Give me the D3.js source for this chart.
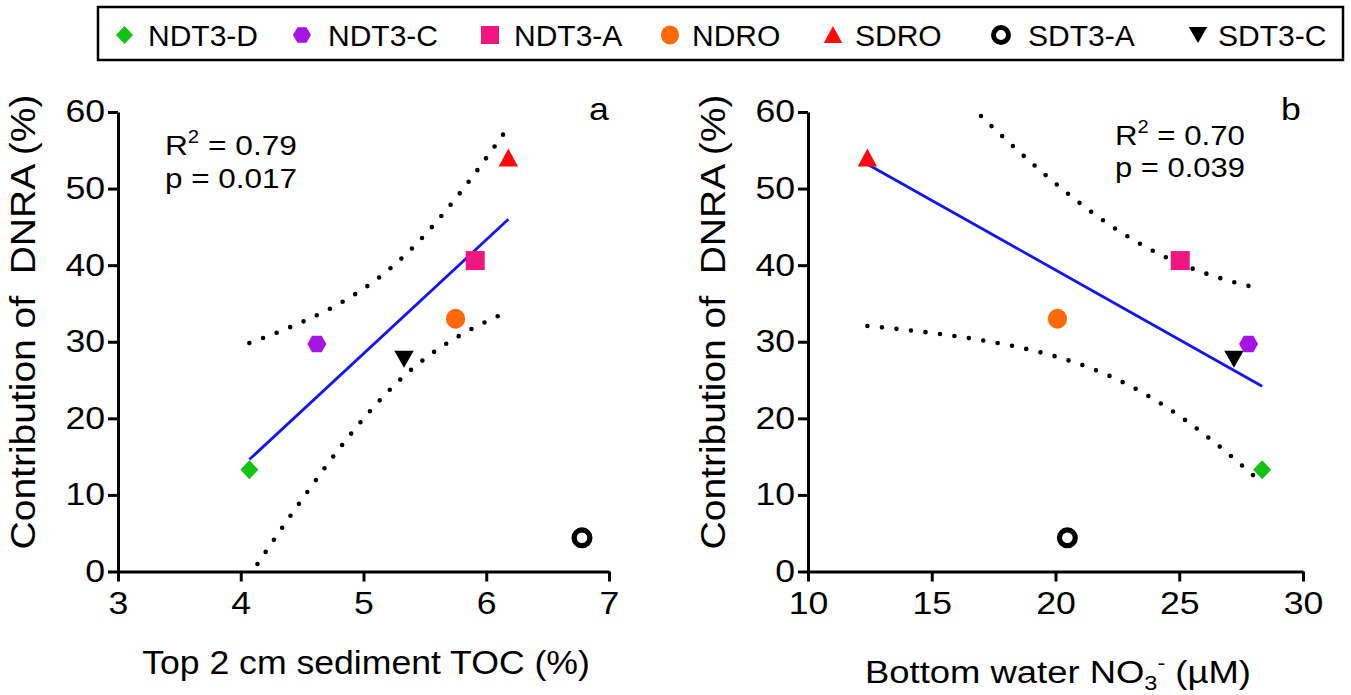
<!DOCTYPE html>
<html><head><meta charset="utf-8">
<script src="https://cdn.jsdelivr.net/npm/d3@7"></script>
<style>
body{margin:0;background:#fff;}
svg text{font-family:"Liberation Sans",Arial,Helvetica,sans-serif;fill:#000;}
</style></head><body>
<svg id="c" width="1351" height="695"></svg>
<script>
// ---------------- data ----------------
const sites   = ["NDT3-D","NDT3-C","NDT3-A","NDRO","SDRO","SDT3-A","SDT3-C"];
const shapes  = ["diamond","hexagon","square","circle","triangle","ring","triangleDown"];
const colors  = ["#12c312","#a614e3","#f0167f","#ff690a","#ff0a0a","#000000","#000000"];
const dnra    = [13.3, 29.7, 40.6, 33.0, 54.0, 4.4, 27.7];   // Contribution of DNRA (%)
const toc     = [4.07, 4.62, 5.91, 5.75, 6.18, 6.78, 5.33];  // Top 2 cm sediment TOC (%)
const no3     = [28.35, 27.8, 25.04, 20.08, 12.4, 20.48, 27.21]; // Bottom water NO3- (uM)
const inFit   = [true, true, true, true, true, false, true];
const yTicks   = [0,10,20,30,40,50,60];
const tocTicks = [3,4,5,6,7];
const no3Ticks = [10,15,20,25,30];
const r2Text   = ["0.79","0.70"];
const pText    = ["0.017","0.039"];
const panelTag = ["a","b"];
const tCrit = 2.776; // t(0.975, df = 4)

// ---------------- helpers ----------------
const svg = d3.select("#c");
const FONT = "\"Liberation Sans\",Arial,sans-serif";

function shapePath(type, s) {
  s = s || 1;
  const P = (pts) => "M" + pts.map(p => (p[0]*s).toFixed(2) + "," + (p[1]*s).toFixed(2)).join("L") + "Z";
  switch (type) {
    case "diamond": return P([[0,-9.5],[9,0],[0,9.5],[-9,0]]);
    case "hexagon": return P([[-9.5,0],[-4.75,-8.2],[4.75,-8.2],[9.5,0],[4.75,8.2],[-4.75,8.2]]);
    case "square": return P([[-9.5,-9.5],[9.5,-9.5],[9.5,9.5],[-9.5,9.5]]);
    case "triangle": return P([[0,-9.5],[9.7,8.5],[-9.7,8.5]]);
    case "triangleDown": return P([[-9.7,-8.5],[9.7,-8.5],[0,8.5]]);
  }
  return null;
}
function drawMarker(g, type, color, x, y, s) {
  s = s || 1;
  if (type === "circle") {
    g.append("ellipse").attr("cx", x).attr("cy", y).attr("rx", 9.6*s).attr("ry", 10*s).attr("fill", color);
  } else if (type === "ring") {
    g.append("circle").attr("cx", x).attr("cy", y).attr("r", 7.9*s)
      .attr("fill", "none").attr("stroke", color).attr("stroke-width", 5.2*s);
  } else {
    g.append("path").attr("d", shapePath(type, s)).attr("transform", `translate(${x},${y})`).attr("fill", color);
  }
}
// place text with horizontal stretch
function stretchText(parent, str, x, y, size, opt) {
  opt = opt || {};
  const t = parent.append("text").attr("font-size", size).attr("text-anchor", opt.anchor || "start")
    .attr("xml:space", "preserve").style("white-space", "pre");
  if (typeof str === "function") str(t); else t.text(str);
  let sx = opt.sx || 1;
  if (opt.width) sx = opt.width / t.node().getBBox().width;
  const rot = opt.rotate ? ` rotate(${opt.rotate})` : "";
  t.attr("transform", `translate(${x},${y})${rot} scale(${sx},1)`);
  return t;
}
function linfit(xs, ys) {
  const n = xs.length, mx = d3.mean(xs), my = d3.mean(ys);
  let sxx = 0, sxy = 0;
  xs.forEach((x,i) => { sxx += (x-mx)*(x-mx); sxy += (x-mx)*(ys[i]-my); });
  const b = sxy / sxx, a = my - b*mx;
  let sse = 0; xs.forEach((x,i) => { const r = ys[i] - (a + b*x); sse += r*r; });
  const s = Math.sqrt(sse / (n-2));
  return { a, b, n, mx, sxx, s,
    y: x => a + b*x,
    half: x => tCrit * s * Math.sqrt(1/n + (x-mx)*(x-mx)/sxx) };
}

// ---------------- legend ----------------
const leg = svg.append("g");
leg.append("rect").attr("x", 98).attr("y", 7).attr("width", 1245).attr("height", 53)
  .attr("fill", "#fff").attr("stroke", "#000").attr("stroke-width", 2.5);
const legMarkX = [124.5, 302, 490, 670, 833, 1001, 1198];
const legTextX = [148, 328, 514, 692, 855, 1028, 1218];
sites.forEach((name, i) => {
  drawMarker(leg, shapes[i], colors[i], legMarkX[i], 35, 0.95);
  leg.append("text").attr("x", legTextX[i]).attr("y", 46).attr("font-size", 30).text(name);
});

// ---------------- panels ----------------
const panels = [
  { xs: toc, domain: [3,7], range: [118,609], ticks: tocTicks, tag: panelTag[0], tagX: 599,
    statX: 165, statY: [155,188], statW: 132, titleX: 366, titleY: 674, titleW: 448, titleSize: 34,
    ytitleX: 35, title: t => t.text("Top 2 cm sediment TOC (%)") },
  { xs: no3, domain: [10,30], range: [808,1303], ticks: no3Ticks, tag: panelTag[1], tagX: 1291,
    statX: 1115, statY: [145,177], statW: 130, titleX: 1058, titleY: 683, titleW: 386, titleSize: 31,
    ytitleX: 725, title: t => { t.append("tspan").text("Bottom water NO");
      t.append("tspan").attr("font-size", 20).attr("dy", 7).text("3");
      t.append("tspan").attr("font-size", 20).attr("dy", -20).text("-");
      t.append("tspan").attr("dy", 13).text(" (\u00b5M)"); } }
];

const y = d3.scaleLinear().domain([0,60]).range([571.5, 112]);

panels.forEach((P, pi) => {
  const x = d3.scaleLinear().domain(P.domain).range(P.range);
  const g = svg.append("g");

  // clip
  const cid = "clip" + pi;
  svg.append("clipPath").attr("id", cid).append("rect")
    .attr("x", P.range[0]).attr("y", y(60)).attr("width", P.range[1]-P.range[0]).attr("height", y(0)-y(60));

  // axes
  const ax = g.append("g").attr("transform", `translate(0,${y(0)})`)
    .call(d3.axisBottom(x).tickValues(P.ticks).tickFormat(d3.format("d")).tickSize(10).tickSizeOuter(0).tickPadding(10));
  const ay = g.append("g").attr("transform", `translate(${P.range[0]},0)`)
    .call(d3.axisLeft(y).tickValues(yTicks).tickFormat(d3.format("d")).tickSize(10).tickSizeOuter(0).tickPadding(3));
  [ax, ay].forEach(a => {
    a.select(".domain").attr("stroke", "#000").attr("stroke-width", 3);
    a.selectAll(".tick line").attr("stroke", "#000").attr("stroke-width", 3);
    a.selectAll(".tick text").attr("font-size", 31).attr("font-family", FONT).attr("fill", "#000");
  });
  ay.selectAll(".tick text").attr("x", -13/1.15).attr("transform", "scale(1.15,1)");
  ax.selectAll(".tick text").attr("transform", "scale(1.15,1)");

  // regression
  const fx = P.xs.filter((d,i) => inFit[i]);
  const fy = dnra.filter((d,i) => inFit[i]);
  const fit = linfit(fx, fy);
  const x0 = d3.min(fx), x1 = d3.max(fx);
  const xsS = d3.range(0, 81).map(k => x0 + (x1-x0)*k/80);
  const plot = g.append("g").attr("clip-path", `url(#${cid})`);
  const lineGen = d3.line().x(d => x(d[0])).y(d => y(d[1]));
  [1, -1].forEach(sign => {
    plot.append("path").datum(xsS.map(v => [v, fit.y(v) + sign*fit.half(v)]))
      .attr("d", lineGen).attr("fill", "none").attr("stroke", "#000")
      .attr("stroke-width", 4.6).attr("stroke-linecap", "round").attr("stroke-dasharray", "0 14.6");
  });
  plot.append("path").datum([[x0, fit.y(x0)], [x1, fit.y(x1)]])
    .attr("d", lineGen).attr("fill", "none").attr("stroke", "#1515ee").attr("stroke-width", 2.8);

  // points
  sites.forEach((s, i) => drawMarker(g, shapes[i], colors[i], x(P.xs[i]), y(dnra[i]), 1));

  // annotations
  stretchText(g, t => { t.append("tspan").text("R");
      t.append("tspan").attr("font-size", 18).attr("dy", -12).text("2");
      t.append("tspan").attr("dy", 12).text(" = " + r2Text[pi]); },
    P.statX, P.statY[0], 28, { width: P.statW });
  stretchText(g, "p = " + pText[pi], P.statX, P.statY[1], 28, { width: P.statW });
  stretchText(g, P.tag, P.tagX, 120, 31, { anchor: "middle", sx: 1.15 });

  // axis titles
  stretchText(g, P.title, P.titleX, P.titleY, P.titleSize, { anchor: "middle", width: P.titleW });
  stretchText(g, "Contribution of\u00a0 DNRA (%)", P.ytitleX, 322, 35, { anchor: "middle", rotate: -90, width: 455 });
});
</script>
</body></html>
